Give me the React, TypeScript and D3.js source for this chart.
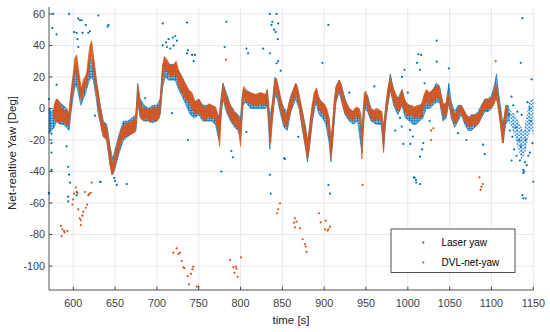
import React from 'react';
import * as d3 from 'd3';

const W = 550;
const H = 332;

const xTicks = [600, 650, 700, 750, 800, 850, 900, 950, 1000, 1050, 1100, 1150];
const yTicks = [-100, -80, -60, -40, -20, 0, 20, 40, 60];

const seriesNames = ['Laser yaw', 'DVL-net-yaw'];

// [time, low, high] of the dense DVL-net-yaw trace
const dvlBand: [number, number, number][] = [
  [577, -6, 2], [579, -8, 5], [581, -9, 6], [584, -9, 3], [587, -8, 0], [590, -10, -2], [592, -10, 0],
  [594, -11, -5], [596, -6, 4], [598, 5, 14], [600, 13, 22], [602, 22, 32], [604, 24, 34], [606, 16, 26],
  [608, 8, 18], [610, 5, 12], [612, 10, 18], [614, 13, 20], [616, 14, 22], [618, 22, 32], [620, 30, 40],
  [622, 34, 43], [624, 24, 34], [626, 16, 26], [628, 8, 16], [630, 0, 10], [632, -8, 2], [634, -14, -4],
  [636, -18, -10], [638, -18, -10], [640, -20, -12], [642, -28, -18], [644, -36, -26], [646, -42, -34],
  [648, -41, -33], [650, -36, -28], [652, -32, -24], [654, -28, -20], [656, -24, -16], [658, -20, -12],
  [662, -18, -10], [666, -17, -9], [670, -16, -8], [674, -15, -7], [676, -8, 4], [677, 6, 15], [679, 0, 8],
  [681, -6, 2], [684, -8, 0], [688, -6, 0], [692, -9, -1], [696, -7, 1], [700, -8, 0], [703, -6, 2],
  [705, 5, 14], [707, 18, 28], [709, 25, 33], [712, 24, 31], [716, 20, 27], [720, 21, 28], [723, 22, 30],
  [726, 14, 24], [730, 10, 20], [734, 6, 16], [738, 4, 12], [742, 0, 10], [746, -4, 4], [750, -2, 6],
  [754, -6, 2], [758, -8, 0], [762, -5, 3], [766, -6, 2], [770, -7, 1], [773, -14, -4], [775, -24, -10],
  [777, -4, 6], [779, 8, 16], [781, 4, 12], [784, -2, 6], [788, -6, 2], [792, -10, -2], [796, -12, -4],
  [798, -14, -6], [800, -24, -10], [802, -2, 8], [804, 8, 14], [807, 4, 11], [812, 3, 10], [818, 2, 9],
  [824, 3, 10], [830, 2, 9], [832, 4, 12], [834, -10, 0], [836, -22, -10], [838, -8, 2], [841, 8, 18],
  [843, 12, 19], [846, 4, 12], [849, -4, 4], [852, -10, -2], [855, -12, -4], [858, -6, 4], [862, 2, 10],
  [866, 10, 16], [868, 6, 14], [871, -2, 6], [874, -12, -2], [877, -22, -12], [880, -32, -20],
  [882, -26, -14], [885, -10, 0], [888, 2, 10], [891, 6, 13], [893, 0, 8], [896, -2, 4], [900, -4, 3],
  [903, -8, 0], [906, -18, -6], [908, -32, -20], [910, -22, -10], [912, -4, 6], [915, 8, 15], [918, 12, 18],
  [920, 8, 16], [923, 0, 8], [926, -4, 4], [930, -6, 0], [934, -8, -2], [938, -5, 1], [942, -6, 0],
  [944, -10, -4], [945, -32, -18], [947, -12, -2], [949, 4, 11], [951, 2, 9], [954, -4, 2], [958, -8, -2],
  [962, -7, 0], [966, -7, -1], [969, -8, -2], [971, -28, -12], [973, -10, -2], [976, 4, 12], [979, 12, 20],
  [982, 6, 14], [986, 0, 8], [990, -2, 6], [993, 4, 12], [996, -2, 6], [1000, -5, 2], [1004, -4, 2],
  [1008, -6, 1], [1012, -5, 2], [1016, -6, 2], [1019, 0, 8], [1022, 4, 12], [1026, 2, 10], [1030, 4, 12],
  [1034, 6, 14], [1037, 8, 15], [1040, 0, 8], [1043, -6, 2], [1046, -4, 4], [1048, 4, 10], [1051, -2, 4],
  [1054, -8, -2], [1057, -10, -4], [1060, -6, 0], [1063, -2, 2], [1066, -6, 0], [1070, -10, -4],
  [1074, -12, -6], [1078, -10, -4], [1082, -11, -4], [1086, -8, -2], [1090, -2, 4], [1094, 0, 6],
  [1098, 0, 6], [1102, 2, 8], [1105, 6, 16], [1107, 4, 12], [1109, -4, 4], [1111, -12, -4],
  [1113, -22, -12], [1115, -16, -6], [1117, -6, 2], [1119, -4, 2],
];

// [time, low, high] of the dense Laser yaw trace
const laserBand: [number, number, number][] = [
  [571, -16, 0], [574, -14, -2], [577, -12, 0], [580, -8, 6], [584, -10, 4], [588, -10, 2], [592, -12, 0],
  [595, -14, -4], [597, -4, 6], [600, 8, 20], [603, 16, 28], [606, 10, 22], [609, 2, 12], [612, 6, 16],
  [615, 10, 20], [618, 16, 26], [621, 20, 32], [624, 18, 30], [627, 8, 20], [630, -4, 10], [633, -10, 0],
  [636, -18, -8], [640, -20, -10], [644, -36, -24], [647, -42, -32], [650, -38, -26], [655, -28, -16],
  [660, -20, -8], [665, -18, -8], [670, -16, -6], [675, -14, -4], [677, 4, 16], [680, -6, 6], [685, -8, 2],
  [690, -8, 0], [695, -9, 2], [700, -8, 2], [704, -4, 6], [707, 14, 28], [710, 20, 30], [714, 18, 28],
  [718, 18, 28], [722, 18, 28], [726, 12, 24], [730, 8, 20], [735, 2, 14], [740, -4, 8], [745, -6, 4],
  [750, -4, 6], [755, -8, 2], [760, -8, 2], [765, -8, 2], [770, -10, 0], [774, -20, -6], [777, -2, 8],
  [779, 6, 16], [783, -2, 10], [788, -8, 2], [793, -12, -2], [797, -14, -4], [800, -20, -6], [803, 2, 12],
  [806, 4, 12], [812, 0, 10], [818, 0, 8], [824, 0, 10], [830, 0, 8], [832, 2, 12], [835, -26, -6],
  [838, -6, 4], [841, 8, 20], [844, 6, 16], [848, -4, 6], [852, -12, 0], [856, -14, -2], [860, -2, 8],
  [866, 6, 16], [870, 0, 8], [874, -14, -2], [878, -26, -12], [880, -34, -22], [883, -22, -10],
  [886, -8, 2], [890, 4, 12], [894, -4, 6], [898, -6, 4], [902, -10, 0], [906, -22, -8], [908, -34, -22],
  [911, -16, -4], [914, 4, 14], [918, 10, 18], [921, 4, 14], [925, -4, 6], [930, -8, 0], [935, -10, -2],
  [940, -8, 0], [945, -28, -14], [948, 0, 10], [952, -2, 8], [956, -8, 0], [962, -10, -2], [968, -10, -2],
  [971, -26, -12], [974, -6, 4], [979, 12, 22], [983, 2, 12], [988, -4, 6], [993, 2, 12], [997, -6, 4],
  [1002, -8, 2], [1006, -10, 0], [1010, -10, 0], [1014, -8, 2], [1018, -6, 4], [1022, 0, 10],
  [1026, 0, 10], [1030, 2, 12], [1034, 4, 16], [1038, 4, 14], [1042, -8, 2], [1046, -6, 4], [1049, 4, 16],
  [1052, -6, 4], [1056, -12, -2], [1060, -8, 2], [1064, -4, 2], [1068, -10, -2], [1072, -14, -6],
  [1076, -14, -4], [1080, -12, -4], [1084, -10, -2], [1088, -6, 2], [1092, -2, 6], [1096, -2, 6],
  [1100, 0, 8], [1104, 4, 16], [1106, 10, 22], [1108, 2, 12], [1111, -10, 0], [1114, -22, -10],
  [1117, -10, 0], [1120, -8, 2],
];

// sparse Laser yaw cloud at the end of the record [time, low, high]
const laserTail: [number, number, number][] = [
  [1120, -8, 2], [1124, -12, -2], [1128, -18, -4], [1132, -26, -8], [1136, -32, -12],
  [1139, -30, -14], [1142, -24, -4], [1145, -16, 4], [1148, -14, 6], [1150, -18, 6],
];

// isolated Laser yaw samples [time, yaw]
const laserOutliers: [number, number][] = [
  [576, 60], [575, 51], [580, 47], [595, 60], [608, 56], [606, 57], [610, 56], [615, 53], [630, 59],
  [642, 53], [601, 48.5], [604, 48], [605, 44], [606, 39], [611, 48], [618, 48], [620, 49], [571, 6],
  [580, 15], [574, -16], [574, -22], [574, -28], [574, -39], [571, -54], [592, -24], [594, -37],
  [595, -42], [596, -47], [594, -56], [594, -59], [604, -53], [604, -55], [571, -53.5], [632, -46.5],
  [647, -41], [649, -44], [650, -46], [652, -48.5], [664, -48], [777, -40], [835, -42], [836, -54],
  [626, -4.6], [641, 52], [707, 54], [736, 54.5], [783, 55], [835, 60], [838, 55], [840, 50], [842, 48.5],
  [707, 40], [711, 42], [714, 44], [719, 45], [722, 46], [720, 40], [716, 38], [724, 43], [712, 39],
  [737, 37], [742, 34], [736, 35], [807, 38], [827, 38], [845, 30], [737, -20], [789, -27], [791, -31],
  [853, -32], [781, 39], [718, -3], [745.5, 34], [744, 30], [843, 60], [845, 54], [837, 53], [844.5, 44],
  [905, 53], [809, 35], [835, 35], [843, 28.7], [848, 24], [898, 29], [807, -15], [869, -18],
  [852, -31.6], [907, -54], [1012.6, 34.4], [1011, 29], [996, 24.5], [993, 20], [1014.6, 24.5],
  [990.6, -6], [992.7, -11.5], [1002.6, -13.6], [1006, -17.8], [994.6, -22.5], [1018.5, -22],
  [1017, -26], [1014.6, -30.6], [1008, -44], [1010, -47], [1034.5, 43], [1016, 34], [1034.5, 29.7],
  [1137, 57.3], [1135, 29], [1148, 18.5], [905, -48.6], [1137, -55], [1141, -57], [1150, -46.5],
  [1138, -39], [1138, -41], [1124, -33], [1134, -33], [1090, -23], [1092, -29], [1060, -15.7],
  [1003, -22.5], [1049, 25.5], [1070, -20], [1124, 7.5], [1007.4, -43.7], [1009.8, -45.4],
  [1014.6, -48], [1139, -40], [1138, -57], [686, 6.5], [632, -2], [633, -46.5], [1000, 10], [985, -14],
  [1020, 16], [1026, -8], [960, 14], [930, 10], [1146, -28], [1142, -36], [1130, -30], [1127, -26],
  [1122, -14], [1126, 2], [1131, -2], [1133, -20], [1136, -4], [1140, -34], [1144, -30], [1147, -8],
  [1149, -22], [1143, 4], [1129, -12], [1135, -24], [1141, -20], [1146, 0], [1121, -4], [1125, -18],
];

// isolated DVL-net-yaw samples [time, yaw]
const dvlOutliers: [number, number][] = [
  [585.3, -74.6], [587, -76.7], [589, -77.8], [593, -77.8], [586, -81], [589.6, -78.6], [603, -50],
  [601, -54], [600, -57.7], [605, -53.5], [599, -61], [606, -64], [607.7, -69.7], [609, -71], [609, -74],
  [612, -65.5], [615, -63], [616.5, -61], [611, -68], [619, -54.3], [621, -53.5], [622, -47],
  [719.6, -91.5], [723.7, -88.8], [725.6, -92.4], [727.6, -91.5], [729.7, -96.8], [731.6, -100.8],
  [733, -101.4], [736.8, -106.4], [740.8, -105], [742.4, -102], [743.5, -100.4], [738.4, -111.6],
  [747.6, -113], [749.6, -113], [787.4, -96.2], [791.4, -100.8], [794.2, -100.4], [795.4, -101.7],
  [792.6, -104.3], [796.6, -106.8], [800.6, -94.5], [847.2, -60.2], [845, -64], [843.6, -66.5],
  [864, -72.5], [865, -69.7], [867, -71.8], [865, -75.4], [871, -76], [874.3, -83], [877, -86],
  [878, -87.6], [879, -91], [893.8, -66.5], [895.8, -72.3], [901.8, -71.2], [901, -76.7], [905, -76.7],
  [907, -75], [904, -77.5], [946, -48.6], [1085.5, -43.7], [1089.5, -48], [1088, -49.7], [1087, -51.7],
  [782.6, 31], [1105, 30], [1027.7, -14], [1027.7, -20], [1030.5, -12.6], [614, -53], [618, -55],
];

const BLUE = '#0072BD';
const ORANGE = '#D95319';
const FONT = '"Liberation Sans", Arial, Helvetica, sans-serif';

export default function App() {
  const x = d3.scaleLinear().domain([571, 1150]).range([49, 533.3]);
  const y = d3.scaleLinear().domain([64.4, -115.2]).range([7, 290]);
  const area = d3
    .area<[number, number, number]>()
    .x((d) => x(d[0]))
    .y0((d) => y(d[1]))
    .y1((d) => y(d[2]));

  const [x0, x1] = x.range();
  const [y0, y1] = y.range();

  return (
    <svg
      width={W}
      height={H}
      viewBox={`0 0 ${W} ${H}`}
      style={{ position: 'absolute', left: 0, top: 0, background: '#fff' }}
      fontFamily={FONT}
    >
      <defs>
        <pattern id="dotsBlue" width={2.6} height={2.6} patternUnits="userSpaceOnUse">
          <circle cx={1.3} cy={1.3} r={1.2} fill={BLUE} />
        </pattern>
        <pattern id="dotsOrange" width={2.3} height={2.3} patternUnits="userSpaceOnUse">
          <circle cx={1.15} cy={1.15} r={1.25} fill={ORANGE} />
        </pattern>
        <pattern id="dotsTail" width={4} height={3.4} patternUnits="userSpaceOnUse">
          <circle cx={1.2} cy={1.2} r={1.05} fill="#1f7fd0" />
          <circle cx={3.2} cy={2.9} r={0.9} fill="#1f7fd0" />
        </pattern>
      </defs>
      <rect width={W} height={H} fill="#fff" />
      {/* grid */}
      <g stroke="#e3e3e3" strokeWidth={0.8}>
        {xTicks.map((t) => (
          <line key={'gx' + t} x1={x(t)} x2={x(t)} y1={y0} y2={y1} />
        ))}
        {yTicks.map((t) => (
          <line key={'gy' + t} x1={x0} x2={x1} y1={y(t)} y2={y(t)} />
        ))}
      </g>
      {/* laser yaw */}
      <path d={area(laserBand) || ''} fill="url(#dotsBlue)" stroke={BLUE} strokeWidth={0.9} strokeOpacity={0.7} />
      <path d={area(laserTail) || ''} fill="url(#dotsTail)" stroke="none" />
      <g fill={BLUE}>
        {laserOutliers.map((d, i) => (
          <circle key={'lo' + i} cx={x(d[0])} cy={y(d[1])} r={1.1} />
        ))}
      </g>
      {/* DVL-net-yaw */}
      <path d={area(dvlBand) || ''} fill="url(#dotsOrange)" stroke={ORANGE} strokeWidth={0.9} strokeOpacity={0.8} />
      <g fill={ORANGE}>
        {dvlOutliers.map((d, i) => (
          <circle key={'do' + i} cx={x(d[0])} cy={y(d[1])} r={1.1} />
        ))}
      </g>
      {/* axes */}
      <g stroke="#262626" strokeWidth={0.8}>
        <line x1={x0} x2={x1} y1={y1} y2={y1} />
        <line x1={x0} x2={x0} y1={y0} y2={y1} />
        {xTicks.map((t) => (
          <line key={'tx' + t} x1={x(t)} x2={x(t)} y1={y1} y2={y1 - 3.5} />
        ))}
        {yTicks.map((t) => (
          <line key={'ty' + t} x1={x0} x2={x0 + 3.5} y1={y(t)} y2={y(t)} />
        ))}
      </g>
      <g fill="#404040" fontSize={10.8}>
        {xTicks.map((t) => (
          <text key={'lx' + t} x={x(t)} y={307} textAnchor="middle">
            {t}
          </text>
        ))}
        {yTicks.map((t) => (
          <text key={'ly' + t} x={45} y={y(t) + 3.8} textAnchor="end">
            {t}
          </text>
        ))}
      </g>
      <text x={291} y={324} textAnchor="middle" fontSize={11.5} fill="#262626">
        time [s]
      </text>
      <text
        transform={`translate(15.5,153) rotate(-90)`}
        textAnchor="middle"
        fontSize={11.5}
        fill="#262626"
      >
        Net-realtive Yaw [Deg]
      </text>
      {/* legend */}
      <rect x={391} y={229} width={124} height={43.5} fill="#fff" stroke="#262626" strokeWidth={0.8} />
      <circle cx={423.3} cy={242.5} r={1.1} fill={BLUE} />
      <circle cx={423.3} cy={262.5} r={1.1} fill={ORANGE} />
      <text x={441.5} y={246.3} fontSize={10} fill="#000">
        {seriesNames[0]}
      </text>
      <text x={441.5} y={266.3} fontSize={10} fill="#000">
        {seriesNames[1]}
      </text>
    </svg>
  );
}
